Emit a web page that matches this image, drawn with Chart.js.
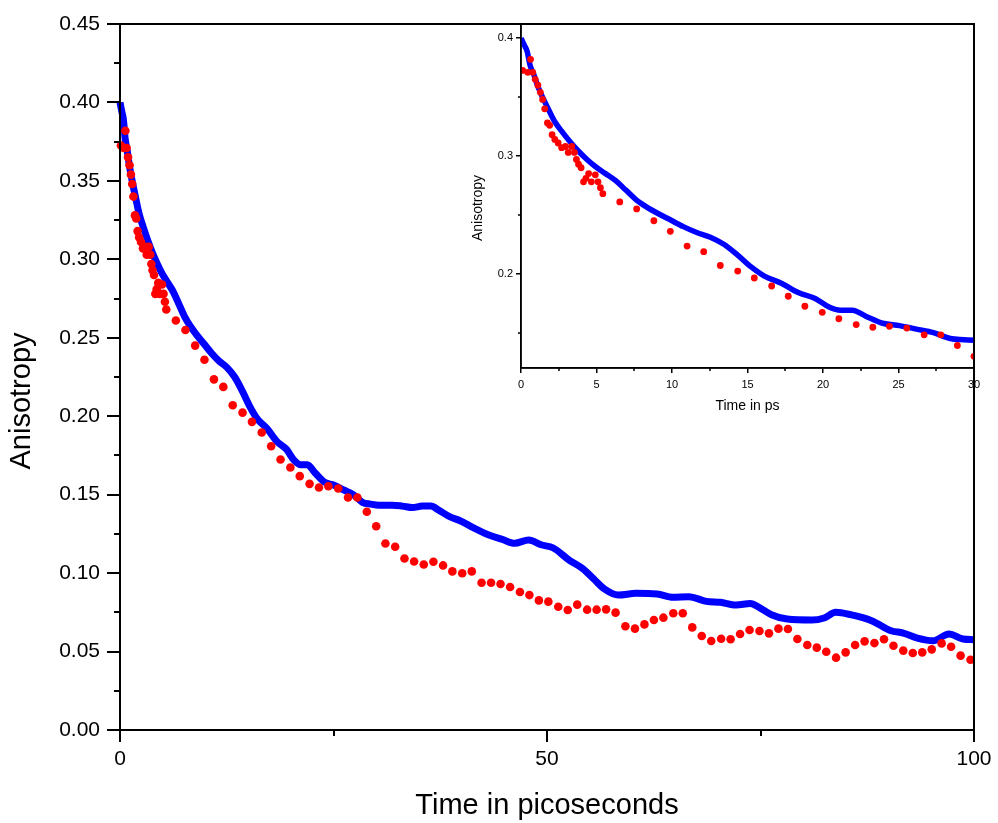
<!DOCTYPE html>
<html>
<head>
<meta charset="utf-8">
<script src="https://cdn.jsdelivr.net/npm/chart.js@4/dist/chart.umd.min.js"></script>
<style>
    body { margin: 0; background: #fff; }
    #wrap { position: relative; width: 998px; height: 823px; }
    #main { position: absolute; left: 0; top: 0; }
    #inset { position: absolute; left: 440px; top: 0; }
</style>
</head>
<body>
<div id="wrap">
    <canvas id="main" width="998" height="823"></canvas>
    <canvas id="inset" width="558" height="430"></canvas>
</div>
<script>
// red circles (measured)
const redTime = [0.11, 0.45, 0.63, 0.78, 0.94, 1.12, 1.28, 1.43, 1.57, 1.75, 1.90, 2.06, 2.24, 2.46, 2.69,
    2.95, 3.13, 3.36, 3.54, 3.67, 3.81, 3.98, 4.14, 4.30, 4.48, 4.66, 4.92, 5.10, 5.26, 5.42,
    6.54, 7.66, 8.80, 9.89,
    11.0, 12.1, 13.2, 14.35, 15.45, 16.6, 17.7, 18.8, 19.95, 21.05, 22.2, 23.3, 24.4, 25.55, 26.7,
    27.8, 28.9, 30.0, 31.08, 32.22, 33.31, 34.44, 35.57, 36.70, 37.83,
    38.92, 40.07, 41.19, 42.34, 43.45, 44.56, 45.68, 46.83, 47.94, 49.05, 50.16, 51.32, 52.43, 53.54,
    54.70, 55.81, 56.92, 58.03, 59.18, 60.30, 61.41, 62.52, 63.63, 64.79, 65.90, 67.01, 68.12, 69.23,
    70.39, 71.50, 72.61, 73.72, 74.88, 75.99, 77.10, 78.21, 79.32, 80.48, 81.59, 82.70, 83.85, 84.97,
    86.08, 87.19, 88.34, 89.46, 90.57, 91.72, 92.83, 93.94, 95.05, 96.21, 97.32, 98.43, 99.59];
const redAniso = [0.3726, 0.371, 0.382, 0.371, 0.365, 0.360, 0.354, 0.348, 0.340, 0.328, 0.326, 0.318, 0.314, 0.311, 0.307,
    0.308, 0.303, 0.308, 0.303, 0.297, 0.293, 0.290, 0.278, 0.281, 0.285, 0.278, 0.284, 0.278, 0.273, 0.268,
    0.261, 0.255, 0.245, 0.236,
    0.2235, 0.2187, 0.207, 0.2023, 0.1964, 0.1896, 0.1809, 0.1724, 0.1673, 0.1618, 0.1569, 0.1546, 0.1554, 0.1539, 0.1482,
    0.1482, 0.1391, 0.1299, 0.1189, 0.1168, 0.1093, 0.1074, 0.1055, 0.1072, 0.1049,
    0.1011, 0.0999, 0.1011, 0.0939, 0.0939, 0.0931, 0.0911, 0.0880, 0.0860, 0.0826, 0.0818, 0.0786, 0.0765, 0.0799,
    0.0767, 0.0767, 0.0769, 0.0748, 0.0661, 0.0646, 0.0673, 0.0701, 0.0716, 0.0744, 0.0744, 0.0654, 0.0599, 0.0567,
    0.0582, 0.0578, 0.0612, 0.0637, 0.0631, 0.0616, 0.0646, 0.0644, 0.0580, 0.0542, 0.0525, 0.0499, 0.0461, 0.0495,
    0.0542, 0.0565, 0.0554, 0.0578, 0.0537, 0.0506, 0.0491, 0.0495, 0.0514, 0.0552, 0.0531, 0.0474, 0.0448];

// blue trace (sampled along the curve)
const blueTime = [0, 0.22, 0.40, 0.60, 0.85, 1.12, 1.46, 1.84, 2.24, 2.69, 3.25, 3.81, 4.37, 4.92, 5.60,
    6.27, 6.94, 7.61, 8.28, 8.95, 9.85, 10.75, 11.64, 12.54, 13.43, 14.33, 15.22, 16.12, 17.24, 18.36,
    19.48, 20.37, 21.15, 21.94, 22.83, 23.95, 25.07, 26.19, 27.31, 28.43, 29.33, 30.34, 31.90, 33.07, 34.24,
    35.41, 36.39, 37.36, 38.59, 39.83, 41.47, 43.12, 44.77, 46.21, 47.86, 49.30, 50.74, 52.59, 54.24, 55.48,
    56.71, 58.36, 60.42, 62.89, 64.74, 66.60, 68.66, 70.30, 72.16, 73.81, 74.83, 76.28, 78.13, 81.01, 82.45,
    83.81, 85.54, 88.01, 90.28, 91.72, 93.37, 95.22, 97.08, 98.72, 100];
const blueAniso = [0.400, 0.394, 0.389, 0.377, 0.369, 0.359, 0.349, 0.339, 0.329, 0.321, 0.312, 0.304, 0.297, 0.291, 0.285,
    0.279, 0.271, 0.263, 0.257, 0.252, 0.246, 0.240, 0.235, 0.231, 0.225, 0.216, 0.206, 0.198, 0.192, 0.184,
    0.179, 0.172, 0.169, 0.169, 0.164, 0.158, 0.156, 0.153, 0.150, 0.145, 0.144, 0.1433, 0.1433, 0.1427, 0.1418,
    0.1427, 0.1427, 0.1400, 0.1360, 0.1334, 0.1287, 0.1245, 0.1215, 0.1190, 0.1211, 0.1181, 0.1160, 0.1083, 0.1026, 0.0962,
    0.0899, 0.0860, 0.0871, 0.0867, 0.0846, 0.0850, 0.0820, 0.0814, 0.0797, 0.0807, 0.0782, 0.0735, 0.0707, 0.0701, 0.0714,
    0.0750, 0.0735, 0.0697, 0.0633, 0.0618, 0.0586, 0.0569, 0.0612, 0.0580, 0.0576];

const mainMinorX = [25, 75];
const mainMinorY = [0.025, 0.075, 0.125, 0.175, 0.225, 0.275, 0.325, 0.375, 0.425];
const insetMinorX = [2.5, 7.5, 12.5, 17.5, 22.5, 27.5];
const insetMinorY = [0.15, 0.25, 0.35];

const FONT = "'Liberation Sans', Arial, sans-serif";

function toPoints(xs, ys, maxX) {
    var pts = [];
    xs.forEach((x, i) => {
        if (maxX == undefined || x <= maxX) pts.push({ x: x, y: ys[i] });
    });
    return pts;
}

// minor ticks, box frame and the rotated y title
const extras = {
    id: 'extras',
    afterDraw(chart, args, opts) {
        const ctx = chart.ctx;
        const area = chart.chartArea;
        const xs = chart.scales.x;
        const ys = chart.scales.y;
        ctx.save();
        ctx.strokeStyle = '#000';
        ctx.lineWidth = opts.lineWidth;
        ctx.beginPath();
        opts.minorX.forEach(v => {
            const px = Math.round(xs.getPixelForValue(v));
            ctx.moveTo(px, area.bottom);
            ctx.lineTo(px, area.bottom + opts.minorLen);
        });
        opts.minorY.forEach(v => {
            const py = Math.round(ys.getPixelForValue(v));
            ctx.moveTo(area.left, py);
            ctx.lineTo(area.left - opts.minorLen, py);
        });
        ctx.stroke();
        ctx.strokeRect(area.left, area.top, area.right - area.left, area.bottom - area.top);

        ctx.translate(opts.titleX, opts.titleY);
        ctx.rotate(-Math.PI / 2);
        ctx.fillStyle = '#000';
        ctx.font = opts.titleSize + 'px ' + FONT;
        ctx.textAlign = 'center';
        ctx.textBaseline = 'middle';
        ctx.fillText(opts.title, 0, 0);
        ctx.restore();
    }
};

function makeChart(canvasId, cfg) {
    return new Chart(document.getElementById(canvasId), {
        type: 'scatter',
        data: {
            datasets: [
                {
                    label: 'red', data: cfg.red, order: 0,
                    pointRadius: cfg.dot, pointBackgroundColor: '#ff0000', pointBorderWidth: 0,
                    showLine: false, clip: cfg.clip
                },
                {
                    label: 'blue', data: cfg.blue, order: 1,
                    showLine: true, borderColor: '#0000ff', borderWidth: cfg.lineWidth,
                    pointRadius: 0, cubicInterpolationMode: 'monotone', clip: cfg.clip
                }
            ]
        },
        options: {
            responsive: false,
            animation: false,
            layout: { padding: { top: 24, right: 24, left: 0, bottom: 0 } },
            plugins: {
                legend: { display: false },
                tooltip: { enabled: false },
                extras: {
                    minorX: cfg.minorX, minorY: cfg.minorY, minorLen: cfg.minorLen,
                    lineWidth: cfg.axisWidth,
                    title: 'Anisotropy', titleX: cfg.yTitleX, titleY: cfg.yTitleY, titleSize: cfg.titleSize
                }
            },
            scales: {
                x: {
                    type: 'linear', min: cfg.xMin, max: cfg.xMax,
                    afterFit: (scale) => { scale.height = cfg.xHeight; },
                    border: { color: '#000', width: cfg.axisWidth },
                    grid: { drawOnChartArea: false, color: '#000', lineWidth: cfg.axisWidth, tickLength: cfg.xTickLen },
                    ticks: {
                        stepSize: cfg.xStep, color: '#000', padding: cfg.xPad, maxRotation: 0,
                        font: { family: FONT, size: cfg.tickSize }
                    },
                    title: {
                        display: true, text: cfg.xTitle, color: '#000',
                        padding: { top: 0, bottom: cfg.xTitlePad },
                        font: { family: FONT, size: cfg.titleSize }
                    }
                },
                y: {
                    type: 'linear', min: cfg.yMin, max: cfg.yMax,
                    afterFit: (scale) => { scale.width = cfg.yWidth; },
                    border: { color: '#000', width: cfg.axisWidth },
                    grid: { drawOnChartArea: false, color: '#000', lineWidth: cfg.axisWidth, tickLength: cfg.yTickLen },
                    ticks: {
                        stepSize: cfg.yStep, includeBounds: false, color: '#000', padding: cfg.yPad,
                        font: { family: FONT, size: cfg.tickSize },
                        callback: (v) => v.toFixed(cfg.yDigits)
                    }
                }
            }
        },
        plugins: [extras]
    });
}

makeChart('main', {
    red: toPoints(redTime, redAniso), blue: toPoints(blueTime, blueAniso),
    dot: 4.3, lineWidth: 7, clip: false,
    xMin: 0, xMax: 100, xStep: 50, yMin: 0, yMax: 0.45, yStep: 0.05, yDigits: 2,
    xHeight: 93, yWidth: 120, xTickLen: 12, yTickLen: 13, xPad: 5, yPad: 7,
    minorX: mainMinorX, minorY: mainMinorY, minorLen: 6, axisWidth: 2,
    tickSize: 21, titleSize: 29, xTitle: 'Time in picoseconds', xTitlePad: 0,
    yTitleX: 22, yTitleY: 401
});

// the inset shows the first 30 ps; one point past the edge keeps the trace running to the frame
makeChart('inset', {
    red: toPoints(redTime, redAniso, 30.1), blue: toPoints(blueTime, blueAniso, 31),
    dot: 3.4, lineWidth: 5.5, clip: 0,
    xMin: 0, xMax: 30, xStep: 5, yMin: 0.12, yMax: 0.412, yStep: 0.1, yDigits: 1,
    xHeight: 62, yWidth: 81, xTickLen: 5, yTickLen: 5, xPad: 5, yPad: 3,
    minorX: insetMinorX, minorY: insetMinorY, minorLen: 3, axisWidth: 1.5,
    tickSize: 11, titleSize: 14, xTitle: 'Time in ps', xTitlePad: 15,
    yTitleX: 38, yTitleY: 208
});
</script>
</body>
</html>
